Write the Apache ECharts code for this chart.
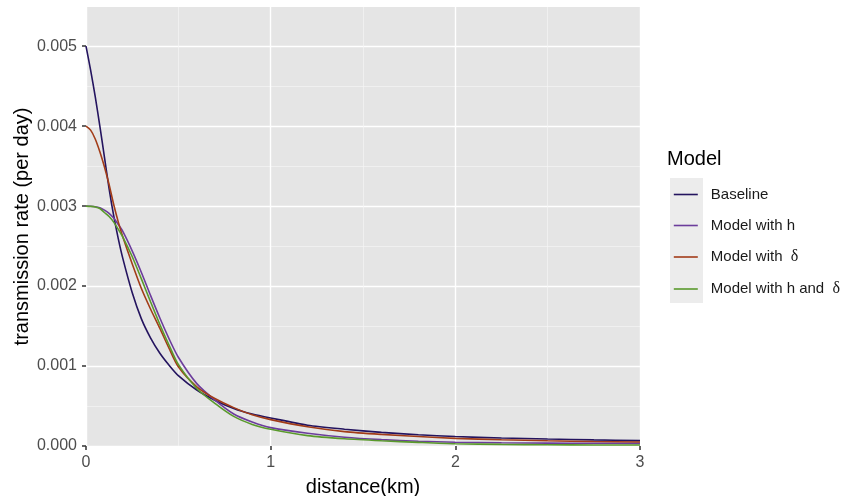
<!DOCTYPE html>
<html>
<head>
<meta charset="utf-8">
<script src="https://cdn.jsdelivr.net/npm/echarts@6/dist/echarts.min.js"></script>
<style>
  html, body { margin: 0; padding: 0; background: #fff; }
  #chart { width: 846px; height: 496px; }
</style>
</head>
<body>
<div id="chart"></div>
<script>
// distance (km)
var distance = [0, 0.025, 0.05, 0.075, 0.1, 0.125, 0.15, 0.175, 0.2, 0.25, 0.3, 0.35, 0.4, 0.45, 0.5,
    0.6, 0.7, 0.8, 0.9, 1.0, 1.2, 1.4, 1.6, 1.8, 2.0, 2.25, 2.5, 2.75, 3.0];

var baseline = [0.00500, 0.00470, 0.00437, 0.00400, 0.00361, 0.00322, 0.00288, 0.00259, 0.00234, 0.00192,
    0.00159, 0.00135, 0.00116, 0.00101, 0.00088, 0.00070, 0.00057, 0.00047, 0.00040, 0.00035,
    0.00026, 0.00021, 0.00017, 0.00014, 0.000118, 0.000100, 0.000087, 0.000076, 0.000067];

var modelH = [0.00300, 0.002998, 0.002993, 0.00298, 0.00295, 0.00291, 0.00285, 0.00277, 0.00268, 0.00244,
    0.00217, 0.00188, 0.00160, 0.00134, 0.00111, 0.00078, 0.00057, 0.00040, 0.00030, 0.00023,
    0.00016, 0.00011, 0.00008, 0.00006, 0.000047, 0.00004, 0.000036, 0.000034, 0.000033];

var modelDelta = [0.00400, 0.00395, 0.00384, 0.00368, 0.00349, 0.00327, 0.00302, 0.00280, 0.00261, 0.00228,
    0.00197, 0.00171, 0.00147, 0.00122, 0.00099, 0.00074, 0.00059, 0.00048, 0.00039, 0.00033,
    0.00024, 0.00018, 0.000145, 0.000118, 0.000095, 0.000078, 0.000065, 0.000056, 0.00005];

var modelHDelta = [0.00300, 0.002997, 0.00299, 0.00297, 0.00292, 0.00287, 0.00280, 0.00271, 0.00261, 0.00237,
    0.00209, 0.00180, 0.00152, 0.00126, 0.00102, 0.00072, 0.00053, 0.00037, 0.00027, 0.00021,
    0.00013, 0.00009, 0.000065, 0.000045, 0.000028, 0.00002, 0.000016, 0.000013, 0.000012];

var yTicks = [0, 0.001, 0.002, 0.003, 0.004, 0.005];
var xTicks = [0, 1, 2, 3];

var seriesNames = ['Baseline', 'Model with h', 'Model with δ', 'Model with h and δ'];
var seriesData = [baseline, modelH, modelDelta, modelHDelta];
var colors = ['#24145f', '#6c3d9c', '#a23c18', '#5a9a2c'];

function pairs(ys) {
    return distance.map(function (d, i) { return [d, ys[i]]; });
}

var series = seriesNames.map(function (name, i) {
    return {
        type: 'line',
        name: name,
        data: pairs(seriesData[i]),
        smooth: 0.25,
        symbol: 'none',
        lineStyle: { color: colors[i], width: 1.6 },
        itemStyle: { color: colors[i] }
    };
});

var font = 'Liberation Sans, Arial, sans-serif';

var option = {
    animation: false,
    color: colors,
    grid: {
        left: 86,
        right: 206,
        top: 7,
        bottom: 50,
        outerBoundsMode: 'none',
        containLabel: false,
        show: true,
        backgroundColor: '#e5e5e5',
        borderWidth: 0
    },
    title: {
        text: 'Model',
        left: 667,
        top: 149,
        padding: 0,
        textStyle: { fontFamily: font, fontSize: 20, fontWeight: 'normal', color: '#000' }
    },
    legend: {
        orient: 'vertical',
        left: 673,
        top: 187,
        padding: 0,
        itemWidth: 24,
        itemHeight: 16,
        itemGap: 16,
        data: seriesNames,
        itemStyle: { opacity: 0 },
        lineStyle: { width: 1.6 },
        formatter: function (name) {
            return name.replace('δ', ' {d|δ}');
        },
        textStyle: {
            fontFamily: font,
            fontSize: 15,
            color: '#1a1a1a',
            padding: [0, 0, 0, 8],
            rich: {
                d: { fontFamily: 'Liberation Serif, DejaVu Serif, serif', fontSize: 16, color: '#1a1a1a' }
            }
        }
    },
    graphic: [{
        type: 'rect',
        z: -1,
        shape: { x: 670, y: 178, width: 33, height: 125 },
        style: { fill: '#ececec' }
    }],
    xAxis: {
        type: 'value',
        min: 0,
        max: 3,
        interval: 1,
        name: 'distance(km)',
        nameLocation: 'middle',
        nameGap: 31,
        nameTextStyle: { fontFamily: font, fontSize: 20, color: '#000' },
        axisLine: { show: false },
        axisTick: { show: true, length: 4, customValues: xTicks, lineStyle: { color: '#333', width: 1.5 } },
        axisLabel: { fontFamily: font, fontSize: 16, color: '#4d4d4d', margin: 9, customValues: xTicks },
        splitLine: { show: true, lineStyle: { color: '#fff', width: 1.4 } },
        minorTick: { show: false, splitNumber: 2 },
        minorSplitLine: { show: true, lineStyle: { color: '#f5f5f5', width: 0.7 } }
    },
    yAxis: {
        type: 'value',
        min: 0,
        max: 0.00549,
        interval: 0.001,
        name: 'transmission rate (per day)',
        nameLocation: 'middle',
        nameGap: 54,
        nameMoveOverlap: false,
        nameTextStyle: { fontFamily: font, fontSize: 20, color: '#000' },
        axisLine: { show: false },
        axisTick: { show: true, length: 4, customValues: yTicks, lineStyle: { color: '#333', width: 1.5 } },
        axisLabel: {
            fontFamily: font, fontSize: 16, color: '#4d4d4d', margin: 9,
            customValues: yTicks,
            formatter: function (v) { return v.toFixed(3); }
        },
        splitLine: { show: true, lineStyle: { color: '#fff', width: 1.4 } },
        minorTick: { show: false, splitNumber: 2 },
        minorSplitLine: { show: true, lineStyle: { color: '#f5f5f5', width: 0.7 } }
    },
    series: series
};

var chart = echarts.init(document.getElementById('chart'));
chart.setOption(option);
window.addEventListener('resize', function () {
    chart.resize();
});
</script>
</body>
</html>
